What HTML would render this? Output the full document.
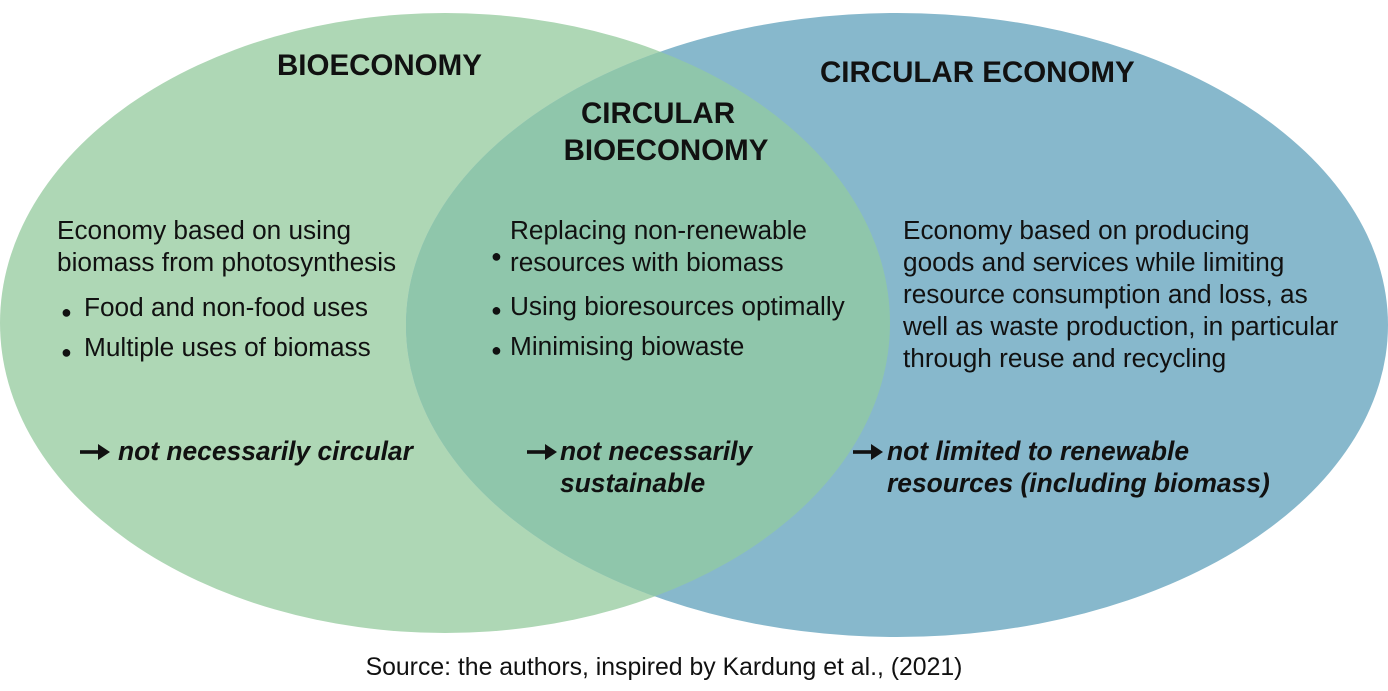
<!DOCTYPE html>
<html><head><meta charset="utf-8"><style>
body{margin:0;width:1388px;height:686px;background:#fff;overflow:hidden}
svg text{font-family:"Liberation Sans",Arial,sans-serif;fill:#111}
.t{font-size:29.5px;font-weight:bold}
.b{font-size:26.2px}
.d{font-size:18px}
.i{font-size:26.4px;font-weight:bold;font-style:italic}
</style></head><body>
<svg width="1388" height="686" viewBox="0 0 1388 686">
<defs><clipPath id="r"><ellipse cx="897" cy="325" rx="491" ry="312"/></clipPath>
<g id="ar"><rect x="0" y="-1.8" width="22" height="3.6" fill="#111"/><path d="M18,-8 L30,0 L18,8 Z" fill="#111"/></g></defs>
<ellipse cx="445" cy="323" rx="445" ry="310" fill="#aed7b5"/>
<ellipse cx="897" cy="325" rx="491" ry="312" fill="#87b8cc"/>
<ellipse cx="445" cy="323" rx="445" ry="310" fill="#8fc6ab" clip-path="url(#r)"/>
<text class="t" x="277" y="75">BIOECONOMY</text>
<text class="t" x="820" y="82">CIRCULAR ECONOMY</text>
<text class="t" x="658" y="123" text-anchor="middle">CIRCULAR</text>
<text class="t" x="666" y="160" text-anchor="middle">BIOECONOMY</text>
<text class="b" x="57" y="239">Economy based on using</text>
<text class="b" x="57" y="271">biomass from photosynthesis</text>
<text class="d" x="61" y="318">●</text><text class="b" x="84" y="316">Food and non-food uses</text>
<text class="d" x="61" y="358">●</text><text class="b" x="84" y="356">Multiple uses of biomass</text>
<text class="b" x="510" y="239">Replacing non-renewable</text>
<text class="d" x="491" y="262">●</text>
<text class="b" x="510" y="271">resources with biomass</text>
<text class="d" x="491" y="316">●</text><text class="b" x="510" y="315">Using bioresources optimally</text>
<text class="d" x="491" y="356">●</text><text class="b" x="510" y="355">Minimising biowaste</text>
<text class="b" x="903" y="239">Economy based on producing</text>
<text class="b" x="903" y="271">goods and services while limiting</text>
<text class="b" x="903" y="303">resource consumption and loss, as</text>
<text class="b" x="903" y="335">well as waste production, in particular</text>
<text class="b" x="903" y="367">through reuse and recycling</text>
<use href="#ar" x="80" y="452"/><text class="i" x="118" y="460">not necessarily circular</text>
<use href="#ar" x="527" y="452"/><text class="i" x="560" y="460">not necessarily</text>
<text class="i" x="560" y="492">sustainable</text>
<use href="#ar" x="853" y="452"/><text class="i" x="887" y="460">not limited to renewable</text>
<text class="i" x="887" y="492">resources (including biomass)</text>
<text x="664" y="675" text-anchor="middle" style="font-size:24.8px">Source: the authors, inspired by Kardung et al., (2021)</text>
</svg>
</body></html>
